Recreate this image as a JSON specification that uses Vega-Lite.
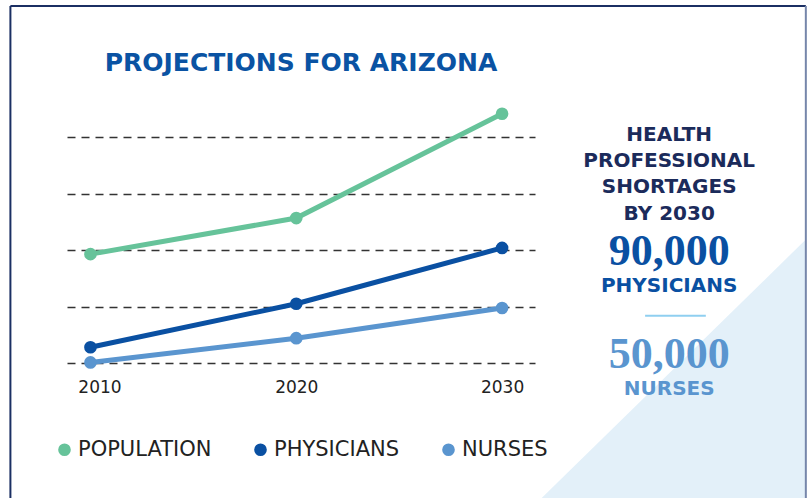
{
  "$schema": "https://vega.github.io/schema/vega-lite/v6.json",
  "width": 468,
  "height": 282,
  "autosize": {"type": "none"},
  "padding": {"left": 67, "top": 81, "right": 274, "bottom": 135},
  "background": "white",
  "title": {"text": "PROJECTIONS FOR ARIZONA", "frame": "group", "anchor": "middle", "orient": "top", "baseline": "alphabetic", "offset": 0, "dy": 91.5, "font": "DejaVu Sans", "fontSize": 25, "fontWeight": "bold", "color": "#0a53a3"},
  "config": {"view": {"stroke": null}},
  "data": {"values": [
    {"year": 2010, "series": "POPULATION", "value": 1.93},
    {"year": 2020, "series": "POPULATION", "value": 2.57},
    {"year": 2030, "series": "POPULATION", "value": 4.42},
    {"year": 2010, "series": "PHYSICIANS", "value": 0.28},
    {"year": 2020, "series": "PHYSICIANS", "value": 1.05},
    {"year": 2030, "series": "PHYSICIANS", "value": 2.04},
    {"year": 2010, "series": "NURSES", "value": 0.01},
    {"year": 2020, "series": "NURSES", "value": 0.44},
    {"year": 2030, "series": "NURSES", "value": 0.975}
  ]},
  "layer": [
    {
      "data": {"values": [{"x": 2031.85, "y": -2.42}, {"x": 2044.76, "y": 2.19}]},
      "mark": {"type": "area", "color": "#e3f0f9"},
      "encoding": {
        "x": {"field": "x", "type": "quantitative", "title": null},
        "y": {"field": "y", "type": "quantitative", "title": null},
        "y2": {"datum": -2.6}
      }
    },
    {
      "data": {"values": [{}]},
      "mark": {"type": "rule", "color": "#1b2f63", "strokeWidth": 2},
      "encoding": {"x": {"datum": 2006.11, "title": null}, "y": {"datum": 6.33, "title": null}, "y2": {"datum": -2.6}}
    },
    {
      "data": {"values": [{}]},
      "mark": {"type": "rule", "color": "#1b2f63", "strokeWidth": 2},
      "encoding": {"x": {"datum": 2006.11, "title": null}, "x2": {"datum": 2044.76}, "y": {"datum": 6.33, "title": null}}
    },
    {
      "data": {"values": [{}]},
      "mark": {"type": "rule", "color": "#7686aa", "strokeWidth": 2},
      "encoding": {"x": {"datum": 2044.76, "title": null}, "y": {"datum": 6.33, "title": null}, "y2": {"datum": -2.6}}
    },
    {
      "mark": {"type": "line", "strokeWidth": 5},
      "encoding": {
        "x": {"field": "year", "type": "quantitative", "title": null,
          "scale": {"domain": [2008.86, 2031.6], "nice": false, "zero": false},
          "axis": {"values": [2010, 2020, 2030], "format": "d", "ticks": false, "domain": false, "grid": false, "labelFont": "DejaVu Sans", "labelFontSize": 17, "labelColor": "#222222", "labelPadding": 16, "labelOffset": {"condition": {"test": "datum.value === 2010", "value": 9}, "value": 0}}},
        "y": {"field": "value", "type": "quantitative", "title": null,
          "scale": {"domain": [0, 5], "nice": false, "zero": false},
          "axis": {"values": [0, 1, 2, 3, 4], "labels": false, "ticks": false, "domain": false, "grid": true, "gridDash": [8, 6], "gridColor": "#333333", "gridWidth": 1.5}},
        "color": {"field": "series", "type": "nominal",
          "scale": {"domain": ["POPULATION", "PHYSICIANS", "NURSES"], "range": ["#66c39a", "#0a50a2", "#5a95cf"]},
          "legend": {"orient": "none", "legendX": -13, "legendY": 358, "direction": "horizontal", "title": null, "labelFont": "DejaVu Sans", "labelFontSize": 21, "labelColor": "#222222", "symbolType": "circle", "symbolSize": 160, "labelOffset": 3, "columnPadding": 38, "padding": 0, "symbolStrokeWidth": 0}}
      }
    },
    {
      "mark": {"type": "point", "filled": true, "size": 160, "opacity": 1},
      "encoding": {
        "x": {"field": "year", "type": "quantitative", "title": null},
        "y": {"field": "value", "type": "quantitative", "title": null},
        "color": {"field": "series", "type": "nominal",
          "legend": {"orient": "none", "legendX": -13, "legendY": 358, "direction": "horizontal", "title": null, "labelFont": "DejaVu Sans", "labelFontSize": 21, "labelColor": "#222222", "symbolType": "circle", "symbolSize": 160, "labelOffset": 3, "columnPadding": 38, "padding": 0, "symbolStrokeWidth": 0}}
      }
    },
    {
      "data": {"values": [{}]},
      "mark": {"type": "text", "text": "HEALTH", "font": "DejaVu Sans", "fontWeight": "bold", "fontSize": 20, "color": "#1b2b5b", "align": "center", "baseline": "alphabetic"},
      "encoding": {"x": {"datum": 2038.12, "title": null}, "y": {"datum": 3.941, "title": null}}
    },
    {
      "data": {"values": [{}]},
      "mark": {"type": "text", "text": "PROFESSIONAL", "font": "DejaVu Sans", "fontWeight": "bold", "fontSize": 20, "color": "#1b2b5b", "align": "center", "baseline": "alphabetic"},
      "encoding": {"x": {"datum": 2038.12, "title": null}, "y": {"datum": 3.48, "title": null}}
    },
    {
      "data": {"values": [{}]},
      "mark": {"type": "text", "text": "SHORTAGES", "font": "DejaVu Sans", "fontWeight": "bold", "fontSize": 20, "color": "#1b2b5b", "align": "center", "baseline": "alphabetic"},
      "encoding": {"x": {"datum": 2038.12, "title": null}, "y": {"datum": 3.014, "title": null}}
    },
    {
      "data": {"values": [{}]},
      "mark": {"type": "text", "text": "BY 2030", "font": "DejaVu Sans", "fontWeight": "bold", "fontSize": 20, "color": "#1b2b5b", "align": "center", "baseline": "alphabetic"},
      "encoding": {"x": {"datum": 2038.12, "title": null}, "y": {"datum": 2.535, "title": null}}
    },
    {
      "data": {"values": [{}]},
      "mark": {"type": "text", "text": "90,000", "font": "Liberation Serif", "fontWeight": "bold", "fontSize": 44, "color": "#0a50a2", "align": "center", "baseline": "alphabetic"},
      "encoding": {"x": {"datum": 2038.12, "title": null}, "y": {"datum": 1.738, "title": null}}
    },
    {
      "data": {"values": [{}]},
      "mark": {"type": "text", "text": "PHYSICIANS", "font": "DejaVu Sans", "fontWeight": "bold", "fontSize": 20, "color": "#0a50a2", "align": "center", "baseline": "alphabetic"},
      "encoding": {"x": {"datum": 2038.12, "title": null}, "y": {"datum": 1.254, "title": null}}
    },
    {
      "data": {"values": [{}]},
      "mark": {"type": "rule", "color": "#8fcff0", "strokeWidth": 2},
      "encoding": {"x": {"datum": 2036.95, "title": null}, "x2": {"datum": 2039.9}, "y": {"datum": 0.839, "title": null}}
    },
    {
      "data": {"values": [{}]},
      "mark": {"type": "text", "text": "50,000", "font": "Liberation Serif", "fontWeight": "bold", "fontSize": 44, "color": "#5a95cf", "align": "center", "baseline": "alphabetic"},
      "encoding": {"x": {"datum": 2038.12, "title": null}, "y": {"datum": -0.094, "title": null}}
    },
    {
      "data": {"values": [{}]},
      "mark": {"type": "text", "text": "NURSES", "font": "DejaVu Sans", "fontWeight": "bold", "fontSize": 20, "color": "#5a95cf", "align": "center", "baseline": "alphabetic"},
      "encoding": {"x": {"datum": 2038.12, "title": null}, "y": {"datum": -0.567, "title": null}}
    }
  ]
}
